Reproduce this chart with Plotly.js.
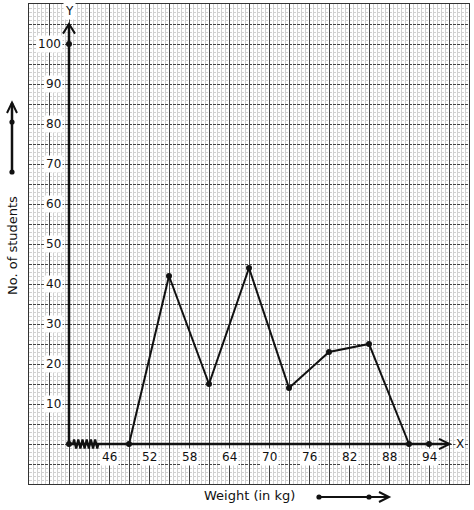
<!DOCTYPE html>
<html>
<head>
<meta charset="utf-8">
<script src="https://cdn.plot.ly/plotly-3.0.1.min.js"></script>
<style>html,body{margin:0;padding:0;background:#fff}#chart{width:474px;height:510px}</style>
</head>
<body>
<div id="chart"></div>
<script>
// Data: frequency polygon (class marks vs number of students)
var classMarks = [49, 55, 61, 67, 73, 79, 85, 91];
var students   = [0, 42, 15, 44, 14, 23, 25, 0];
// extra marked points on the axes
var axisDotsX = [40, 40, 94];
var axisDotsY = [100, 0, 0];
// tick labels
var xTickLabels = [46, 52, 58, 64, 70, 76, 82, 88, 94];
var yTickLabels = [10, 20, 30, 40, 50, 60, 70, 80, 90, 100];

var W = 474, H = 510, ML = 29, MR = 5, MT = 4, MB = 26;
var PW = W - ML - MR, PH = H - MT - MB;
function px(x) { return (x - ML) / PW; }
function py(y) { return (H - MB - y) / PH; }

var ink = '#111';
var FONT = 'DejaVu Sans, sans-serif';

var traces = [
  {
    x: classMarks, y: students, type: 'scatter', mode: 'lines+markers',
    line: {color: ink, width: 2}, marker: {color: ink, size: 6},
    hoverinfo: 'skip', showlegend: false, cliponaxis: false
  },
  {
    x: axisDotsX, y: axisDotsY, type: 'scatter', mode: 'markers',
    marker: {color: ink, size: 6}, hoverinfo: 'skip', showlegend: false, cliponaxis: false
  }
];

var shapes = [];
// axis lines
shapes.push({type: 'line', xref: 'x', yref: 'y', x0: 40, y0: 0, x1: 96.9, y1: 0, line: {color: ink, width: 2.5}});
shapes.push({type: 'line', xref: 'x', yref: 'y', x0: 40, y0: 0, x1: 40, y1: 104.8, line: {color: ink, width: 2.5}});
// axis arrowheads
shapes.push({type: 'path', xref: 'x', yref: 'y', path: 'M95.5,1.3 L97.1,0 L95.5,-1.3', line: {color: ink, width: 2}});
shapes.push({type: 'path', xref: 'x', yref: 'y', path: 'M39.1,102.6 L40,105 L40.9,102.6', line: {color: ink, width: 2}});
// axis break zig-zag
(function () {
  var p = 'M40.6,0', n = 12, x0 = 40.6, x1 = 44.4;
  for (var i = 1; i <= n; i++) {
    var xx = x0 + (x1 - x0) * (i - 0.5) / n;
    p += ' L' + xx.toFixed(3) + ',' + (i % 2 ? 1.1 : -1.1);
  }
  p += ' L' + x1 + ',0';
  shapes.push({type: 'path', xref: 'x', yref: 'y', path: p, line: {color: ink, width: 2.2}});
})();

// outer arrows beside the axis titles (paper coords)
function dot(cx, cy) {
  var r = 2.6;
  return {type: 'circle', xref: 'paper', yref: 'paper', x0: px(cx - r), x1: px(cx + r), y0: py(cy + r), y1: py(cy - r),
          fillcolor: ink, line: {color: ink, width: 0}};
}
shapes.push({type: 'line', xref: 'paper', yref: 'paper', x0: px(12), y0: py(172), x1: px(12), y1: py(103), line: {color: ink, width: 2.5}});
shapes.push({type: 'path', xref: 'paper', yref: 'paper',
  path: 'M' + px(7) + ',' + py(113) + ' L' + px(12) + ',' + py(102.5) + ' L' + px(17) + ',' + py(113),
  line: {color: ink, width: 2}});
shapes.push(dot(12, 122));
shapes.push(dot(12, 172));
shapes.push({type: 'line', xref: 'paper', yref: 'paper', x0: px(319), y0: py(497), x1: px(388), y1: py(497), line: {color: ink, width: 2}});
shapes.push({type: 'path', xref: 'paper', yref: 'paper',
  path: 'M' + px(379) + ',' + py(492) + ' L' + px(389) + ',' + py(497) + ' L' + px(379) + ',' + py(502),
  line: {color: ink, width: 2}});
shapes.push(dot(319, 497));
shapes.push(dot(369, 497));

var annotations = [];
xTickLabels.forEach(function (v) {
  annotations.push({x: v, y: 0, xref: 'x', yref: 'y', text: String(v), showarrow: false,
    yshift: -13, bgcolor: '#fff', borderpad: 1, font: {family: FONT, size: 12, color: ink}});
});
yTickLabels.forEach(function (v) {
  annotations.push({x: 40, y: v, xref: 'x', yref: 'y', text: String(v), showarrow: false,
    xanchor: 'right', xshift: -6, bgcolor: '#fff', borderpad: 1, font: {family: FONT, size: 12, color: ink}});
});
annotations.push({x: 98.6, y: 0, xref: 'x', yref: 'y', text: 'X', showarrow: false, bgcolor: '#fff', borderpad: 0,
  font: {family: FONT, size: 12, color: ink}});
annotations.push({x: 40.1, y: 108.2, xref: 'x', yref: 'y', text: 'Y', showarrow: false, bgcolor: '#fff', borderpad: 1,
  font: {family: FONT, size: 12, color: ink}});
annotations.push({x: px(12), y: py(246), xref: 'paper', yref: 'paper', text: 'No. of students', textangle: -90,
  xanchor: 'center', yanchor: 'middle',
  showarrow: false, font: {family: FONT, size: 13, color: ink}});
annotations.push({x: px(249), y: py(496), xref: 'paper', yref: 'paper', text: 'Weight (in kg)',
  xanchor: 'center', yanchor: 'middle',
  showarrow: false, font: {family: FONT, size: 13, color: ink}});

var layout = {
  width: W, height: H,
  margin: {l: ML, r: MR, t: MT, b: MB, pad: 0},
  paper_bgcolor: '#fff', plot_bgcolor: '#fff',
  showlegend: false,
  xaxis: {
    range: [34, 100], tick0: 34, dtick: 3, showticklabels: false, ticks: '', zeroline: false,
    showgrid: true, gridcolor: '#444', gridwidth: 1,
    minor: {tick0: 34, dtick: 0.6, showgrid: true, gridcolor: '#d0d0d0', gridwidth: 1},
    showline: true, mirror: true, linecolor: '#333', linewidth: 1, fixedrange: true
  },
  yaxis: {
    range: [-10, 110], tick0: 0, dtick: 5, showticklabels: false, ticks: '', zeroline: false,
    showgrid: true, gridcolor: '#444', gridwidth: 1, griddash: '3px,1px',
    minor: {tick0: 0, dtick: 1, showgrid: true, gridcolor: '#d0d0d0', gridwidth: 1},
    showline: true, mirror: true, linecolor: '#333', linewidth: 1, fixedrange: true
  },
  shapes: shapes,
  annotations: annotations
};

Plotly.newPlot('chart', traces, layout, {staticPlot: true, displayModeBar: false});
</script>
</body>
</html>
